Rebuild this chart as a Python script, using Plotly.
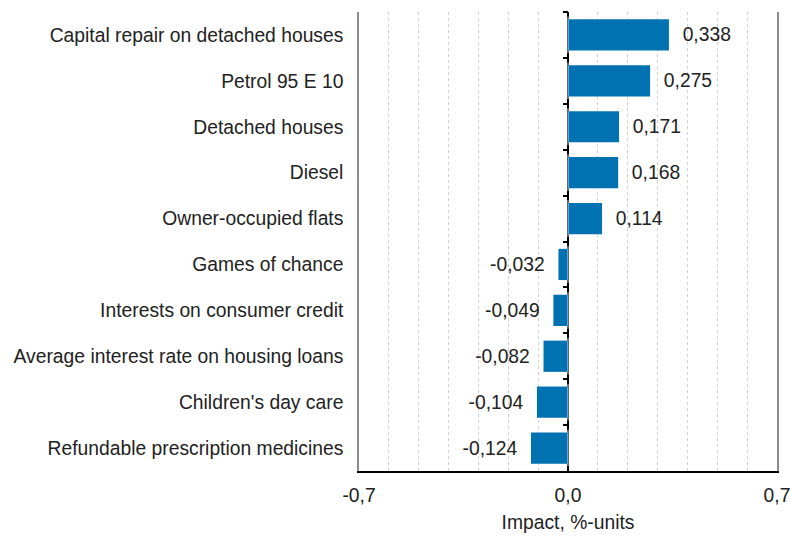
import plotly.graph_objects as go

categories = [
    "Capital repair on detached houses",
    "Petrol 95 E 10",
    "Detached houses",
    "Diesel",
    "Owner-occupied flats",
    "Games of chance",
    "Interests on consumer credit",
    "Average interest rate on housing loans",
    "Children's day care",
    "Refundable prescription medicines",
]
values = [0.338, 0.275, 0.171, 0.168, 0.114, -0.032, -0.049, -0.082, -0.104, -0.124]
tick_vals = [-0.7, 0.0, 0.7]
tick_text = ["-0,7", "0,0", "0,7"]

NB = "\u00a0\u00a0"
labels = [(NB + f"{v:.3f}".replace(".", ",")) if v >= 0 else (f"{v:.3f}".replace(".", ",") + NB)
          for v in values]
FONT = "Liberation Sans, Arial, sans-serif"
FS = 19.3
TC = "#222222"

fig = go.Figure()
fig.add_trace(go.Bar(
    x=values, y=categories, orientation="h",
    marker=dict(color="#0072B2", line=dict(width=0)),
    width=0.68,
    text=labels, textposition="outside", cliponaxis=False,
    constraintext="none",
    textfont=dict(family=FONT, size=FS, color=TC),
    hoverinfo="skip",
))
# invisible trace to define the tick axis at zero
fig.add_trace(go.Bar(
    x=[0] * len(values), y=categories, orientation="h", yaxis="y2",
    marker=dict(color="rgba(0,0,0,0)"), hoverinfo="skip", showlegend=False,
))

fig.update_layout(
    width=790, height=537,
    margin=dict(l=359, r=13, t=12, b=66),
    paper_bgcolor="white", plot_bgcolor="white",
    showlegend=False,
    font=dict(family=FONT, size=FS, color=TC),
    barmode="overlay",
    xaxis=dict(
        range=[-0.7, 0.7], automargin=False,
        tickvals=tick_vals, ticktext=tick_text,
        ticklabeloverflow="allow",
        showgrid=False,
        minor=dict(tick0=-0.7, dtick=0.1, showgrid=True, gridcolor="#d0d0d0",
                   griddash="dot", gridwidth=1),
        showline=True, linecolor="black", linewidth=1.5,
        ticks="inside", ticklen=5, tickcolor="black", tickwidth=1.5,
        zeroline=True, zerolinecolor="black", zerolinewidth=1.5,
        tickfont=dict(size=FS, color=TC), ticklabelstandoff=6,
        title=dict(text="Impact, %-units", font=dict(size=FS, color=TC), standoff=11),
        fixedrange=True,
    ),
    yaxis=dict(
        autorange="reversed", automargin=False,
        showline=True, mirror=True, linecolor="#8c8c8c", linewidth=1.5,
        showgrid=False, zeroline=False,
        ticks="", ticklabelstandoff=10,
        tickfont=dict(size=FS, color=TC),
        fixedrange=True,
    ),
    yaxis2=dict(
        overlaying="y", anchor="free", position=0.5, automargin=False,
        autorange="reversed",
        showticklabels=False, showgrid=False, zeroline=False,
        showline=False,
        ticks="outside", tickson="boundaries", ticklen=5,
        tickcolor="black", tickwidth=1.5,
        fixedrange=True,
    ),
)

fig.write_html(
    "out.html",
    config={"displayModeBar": False},
    post_script="document.body.style.margin='0';document.body.style.overflow='hidden';",
)
